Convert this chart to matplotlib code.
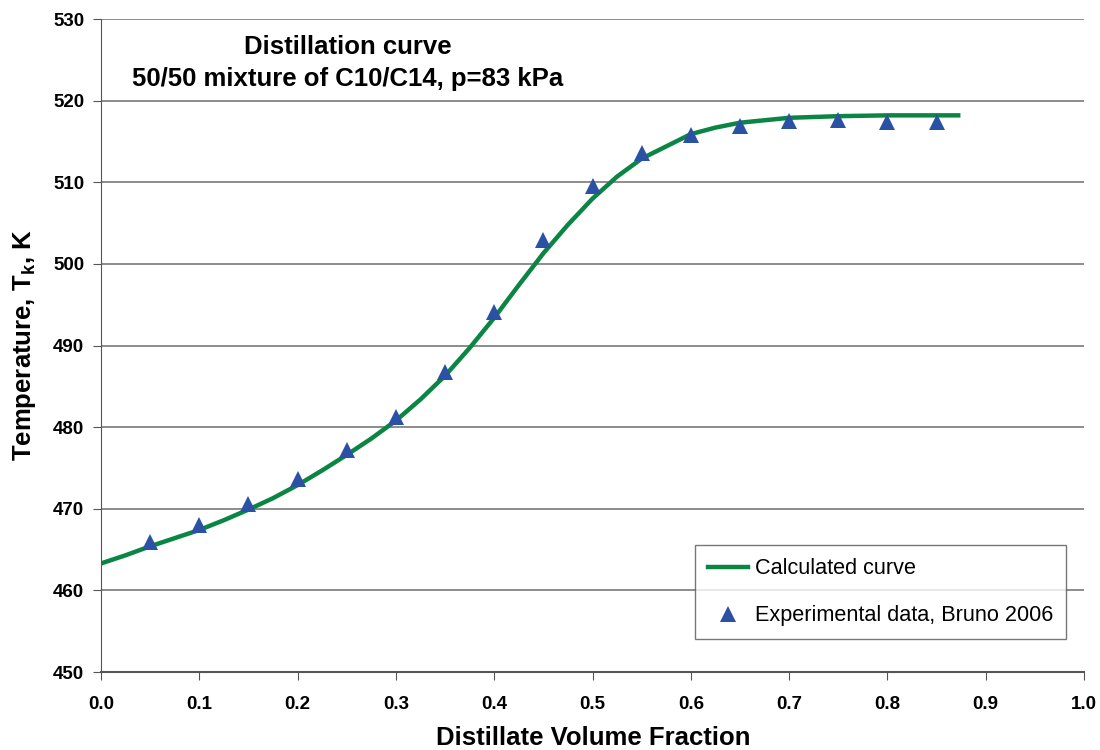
"""
Distillation curve of a 50/50 C10/C14 mixture at p = 83 kPa:
calculated curve vs experimental data (Bruno 2006).
"""

import numpy as np
import matplotlib.pyplot as plt
import matplotlib as mpl

# Calculated curve
calc_frac = [0.0, 0.025, 0.05, 0.075, 0.10, 0.125, 0.15, 0.175, 0.20, 0.225,
             0.25, 0.275, 0.30, 0.325, 0.35, 0.375, 0.40, 0.425, 0.45, 0.475,
             0.50, 0.525, 0.55, 0.575, 0.60, 0.625, 0.65, 0.70, 0.75, 0.80, 0.872]
calc_temp = [463.3, 464.3, 465.4, 466.4, 467.4, 468.6, 469.9, 471.3, 472.9, 474.7,
             476.6, 478.6, 480.8, 483.4, 486.3, 489.7, 493.4, 497.4, 501.3, 504.8,
             508.0, 510.7, 512.9, 514.4, 515.9, 516.7, 517.3, 517.9, 518.1, 518.2, 518.2]

# Experimental data (Bruno 2006)
exp_frac = [0.05, 0.10, 0.15, 0.20, 0.25, 0.30, 0.35, 0.40, 0.45, 0.50,
            0.55, 0.60, 0.65, 0.70, 0.75, 0.80, 0.85]
exp_temp = [465.9, 468.0, 470.6, 473.7, 477.2, 481.2, 486.8, 494.1, 502.9, 509.6,
            513.6, 515.8, 516.9, 517.5, 517.6, 517.4, 517.4]

x_ticks = np.arange(0.0, 1.01, 0.1)
y_ticks = np.arange(450, 531, 10)


def main():
    mpl.rcParams['font.family'] = ['Liberation Sans', 'DejaVu Sans']
    mpl.rcParams['mathtext.fontset'] = 'custom'
    mpl.rcParams['mathtext.bf'] = 'Liberation Sans:bold'
    mpl.rcParams['mathtext.rm'] = 'Liberation Sans:bold'

    fig = plt.figure(figsize=(11, 7.5), dpi=100, facecolor='white')
    ax = fig.add_axes([0.0918, 0.104, 0.8937, 0.8706])

    ax.plot(calc_frac, calc_temp, color='#0B8543', lw=3.2, label='Calculated curve', zorder=3)
    ax.plot(exp_frac, exp_temp, ls='none', marker='^', ms=11.5, color='#2A51A3',
            markeredgewidth=0, label='Experimental data, Bruno 2006', zorder=4)

    ax.set_xlim(0, 1.0)
    ax.set_ylim(450, 530)
    ax.set_xticks(x_ticks)
    ax.set_xticklabels(['%.1f' % v for v in x_ticks])
    ax.set_yticks(y_ticks)

    ax.grid(axis='y', color='#6e6e6e', lw=1.1)
    ax.set_axisbelow(True)
    for side in ['top', 'right']:
        ax.spines[side].set_visible(False)
    ax.spines['left'].set_color('#555555')
    ax.spines['bottom'].set_color('#555555')
    ax.spines['bottom'].set_linewidth(1.5)
    ax.tick_params(axis='both', direction='out', length=6, color='#555555',
                   labelsize=13.5, pad=6)
    for lbl in ax.get_xticklabels() + ax.get_yticklabels():
        lbl.set_fontweight('bold')
    ax.tick_params(axis='x', pad=11)

    ax.set_xlabel('Distillate Volume Fraction', fontsize=18.5, fontweight='bold')
    ax.xaxis.set_label_coords(0.5005, -0.082)
    ax.set_ylabel(r'Temperature, T$_\mathbf{k}$, K', fontsize=18.5, fontweight='bold')
    ax.yaxis.set_label_coords(-0.064, 0.5)

    ax.text(0.251, 0.975, 'Distillation curve\n50/50 mixture of C10/C14, p=83 kPa',
            transform=ax.transAxes, ha='center', va='top', fontsize=18.5,
            fontweight='bold', linespacing=1.42)

    leg = ax.legend(loc='lower right', bbox_to_anchor=(0.982, 0.05), fontsize=15.6,
                    frameon=True, fancybox=False, edgecolor='#555555',
                    labelspacing=1.2, borderpad=0.6, handlelength=1.85,
                    handletextpad=0.3, borderaxespad=0)
    leg.get_frame().set_linewidth(1.0)

    fig.savefig('out.png', dpi=100, facecolor='white')


if __name__ == '__main__':
    main()
